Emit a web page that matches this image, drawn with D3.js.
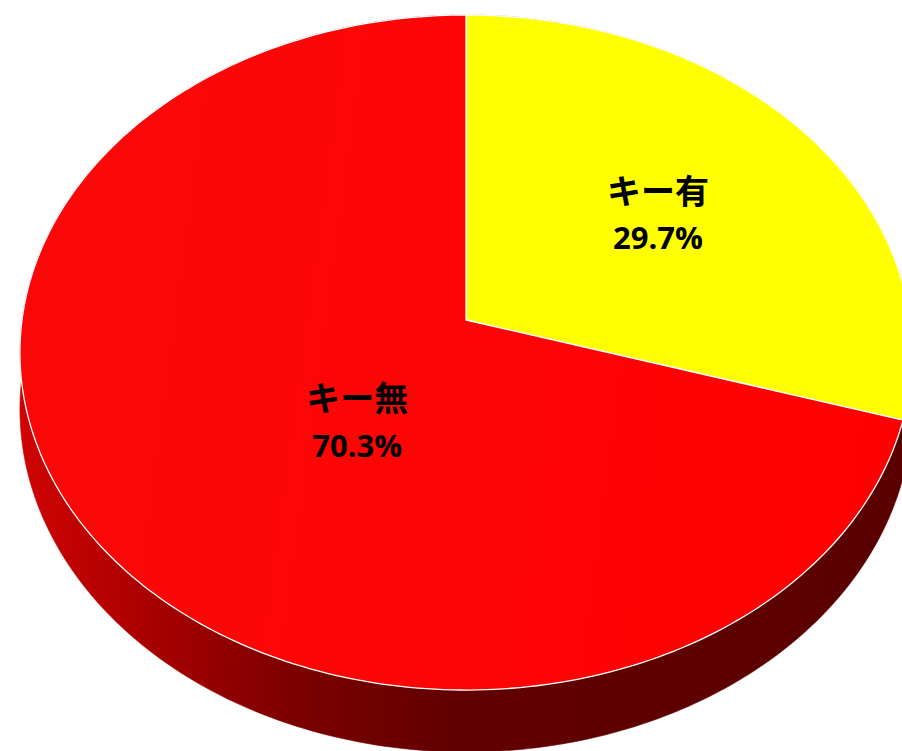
<!DOCTYPE html>
<html>
<head>
<meta charset="utf-8">
<script src="https://cdn.jsdelivr.net/npm/d3@7"></script>
<style>
  html, body { margin: 0; padding: 0; background: #fff; }
  #vis { width: 902px; height: 751px; overflow: hidden; }
  .slice_label { font-weight: 700; }
  .name_line { font-family: "Noto Sans CJK JP", sans-serif; }
  .value_line { font-family: "Open Sans", "Noto Sans", sans-serif; }
</style>
</head>
<body>
<div id="vis"></div>
<script>
// data
const categories = ["キー有", "キー無"];
const shares = [29.7, 70.3];
const percentLabels = ["29.7%", "70.3%"];

// colours per slice (top face, side)
const topColors = ["#ffff00", "url(#top_red)"];
const sideColors = ["#6a6a00", "url(#side_red)"];

////////////////////////////////////////
/////////////// Defaults ///////////////
////////////////////////////////////////

let options = {
  width: 902,
  height: 751,
  cx: 466, // projected centre of the pie top
  cy: 320,
  rx: 444, // horizontal radius
  ry: 334.4, // depth radius after tilt
  depth: 56, // thickness of the pie
  persp: -0.0963, // perspective factor (near side bigger)
  stroke: "#fff",
  strokeWidth: 1.3,
  nameSize: 34,
  valueSize: 31,
  lineGap: 48,
};

// label anchor on the unit disc (u across, v toward the viewer)
const labelDisc = [
  { u: 0.446, v: -0.33 },
  { u: -0.238, v: 0.293 },
];

////////////////////////////////////////
////////////// SVG Setup ///////////////
////////////////////////////////////////

const svg = d3
  .select("#vis")
  .append("svg")
  .attr("width", options.width)
  .attr("height", options.height)
  .attr("viewBox", `0 0 ${options.width} ${options.height}`);

const defs = svg.append("defs");

const sideGrad = defs
  .append("linearGradient")
  .attr("id", "side_red")
  .attr("gradientUnits", "userSpaceOnUse")
  .attr("x1", 18)
  .attr("x2", 912)
  .attr("y1", 0)
  .attr("y2", 0);
sideGrad
  .selectAll("stop")
  .data([
    [0, "#d00404"],
    [0.12, "#b00000"],
    [0.3, "#7e0000"],
    [0.48, "#620000"],
    [1, "#5a0000"],
  ])
  .join("stop")
  .attr("offset", (d) => d[0])
  .attr("stop-color", (d) => d[1]);

const topGrad = defs
  .append("linearGradient")
  .attr("id", "top_red")
  .attr("gradientUnits", "userSpaceOnUse")
  .attr("x1", 18)
  .attr("x2", 902)
  .attr("y1", 300)
  .attr("y2", 420);
topGrad
  .selectAll("stop")
  .data([
    [0, "#fa0808"],
    [0.5, "#fd0505"],
    [1, "#ff0000"],
  ])
  .join("stop")
  .attr("offset", (d) => d[0])
  .attr("stop-color", (d) => d[1]);

////////////////////////////////////////
////////////// Helpers /////////////////
////////////////////////////////////////

// project a point on the disc (u, v) at height level z (0 top, 1 bottom)
function project(u, v, z) {
  const d = 1 + options.persp * v;
  return [
    options.cx + (options.rx * u) / d,
    options.cy + (options.ry * v + options.depth * z) / d,
  ];
}

// point on the rim for a d3.pie angle (0 at top, clockwise)
function rim(a, z) {
  return project(Math.sin(a), -Math.cos(a), z);
}

function arcPoints(a0, a1, z) {
  const n = Math.max(2, Math.ceil(((a1 - a0) / (2 * Math.PI)) * 360));
  return d3.range(n + 1).map((i) => rim(a0 + ((a1 - a0) * i) / n, z));
}

const line = d3.line();

////////////////////////////////////////
////////////// Transform ///////////////
////////////////////////////////////////

const pie = d3
  .pie()
  .sort(null)
  .value((d) => d);

const arcs = pie(shares).map((d, i) => ({
  ...d,
  name: categories[i],
  label: percentLabels[i],
  top: topColors[i],
  side: sideColors[i],
  anchor: labelDisc[i],
}));

////////////////////////////////////////
////////////// DOM Setup ///////////////
////////////////////////////////////////

// outer wall of each slice
svg
  .selectAll(".side")
  .data(arcs)
  .join("path")
  .attr("class", "side")
  .attr("d", (d) => {
    const upper = arcPoints(d.startAngle, d.endAngle, 0);
    const lower = arcPoints(d.startAngle, d.endAngle, 1).reverse();
    return line(upper.concat(lower)) + "Z";
  })
  .attr("fill", (d) => d.side)
  .attr("stroke", (d) => d.side)
  .attr("stroke-width", 0.6);

// top faces
svg
  .selectAll(".top")
  .data(arcs)
  .join("path")
  .attr("class", "top")
  .attr("d", (d) => {
    const pts = [project(0, 0, 0)].concat(
      arcPoints(d.startAngle, d.endAngle, 0)
    );
    return line(pts) + "Z";
  })
  .attr("fill", (d) => d.top)
  .attr("stroke", options.stroke)
  .attr("stroke-width", options.strokeWidth)
  .attr("stroke-linejoin", "round");

// labels
const labels = svg
  .selectAll(".slice_label")
  .data(arcs)
  .join("text")
  .attr("class", "slice_label")
  .attr("text-anchor", "middle")
  .attr("fill", "#000")
  .attr("transform", (d) => {
    const p = project(d.anchor.u, d.anchor.v, 0);
    return `translate(${p[0]},${p[1]})`;
  });

labels
  .append("tspan")
  .attr("class", "name_line")
  .attr("x", 0)
  .attr("y", -options.lineGap / 2)
  .attr("font-size", options.nameSize)
  .attr("dominant-baseline", "central")
  .text((d) => d.name);

labels
  .append("tspan")
  .attr("class", "value_line")
  .attr("x", 0)
  .attr("y", options.lineGap / 2)
  .attr("font-size", options.valueSize)
  .attr("dominant-baseline", "central")
  .text((d) => d.label);
</script>
</body>
</html>
